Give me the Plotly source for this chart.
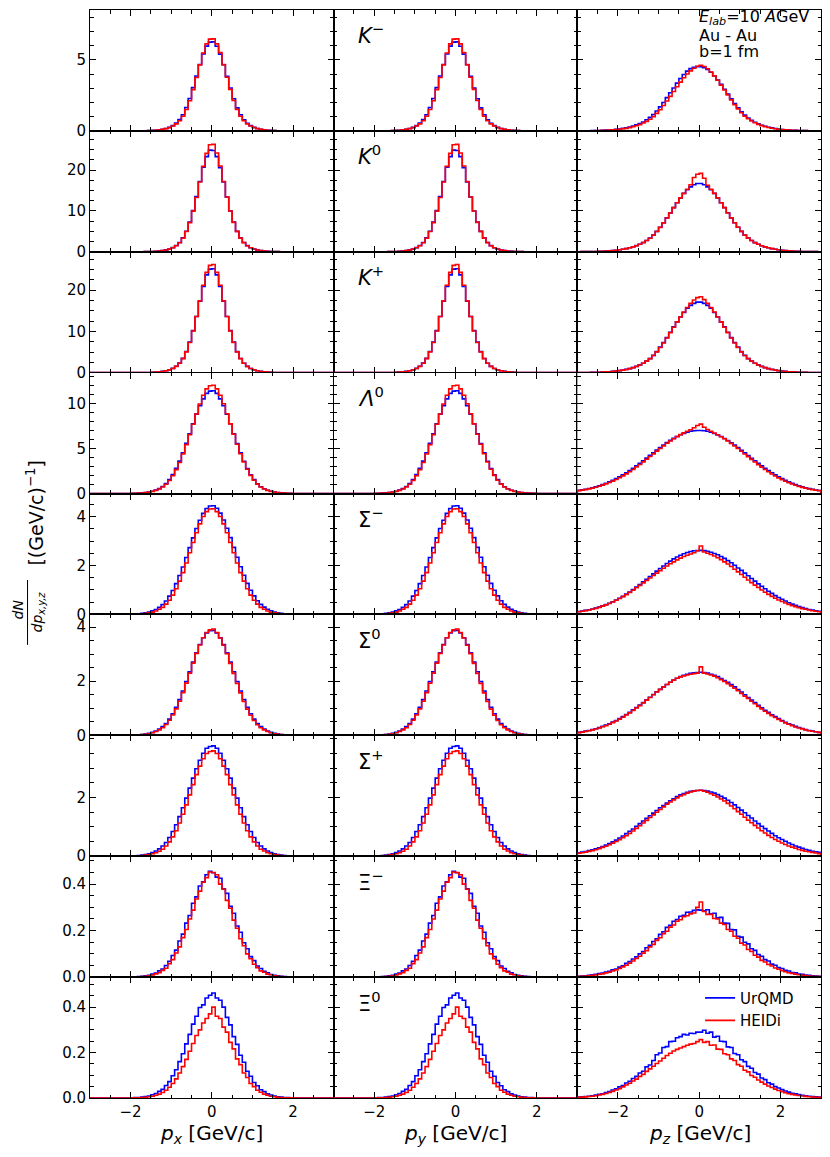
import plotly.graph_objects as go
from plotly.subplots import make_subplots

# ------------------------------
# 1. Histogram values
#    bin width 1/12 GeV/c
#    *_t_* : p_x / p_y, 48 bins from -2 to 2
#    *_z_* : p_z, 72 bins from -3 to 3
# ------------------------------
bin_width = 1 / 12

km_t_urqmd = [0.003, 0.004, 0.006, 0.009, 0.015, 0.022, 0.034, 0.05, 0.08, 0.12, 0.17, 0.25, 0.37, 0.55, 0.79, 1.14, 1.64, 2.28, 3.04, 3.86, 4.67, 5.41, 5.96, 6.24,
              6.26, 5.95, 5.40, 4.65, 3.84, 3.02, 2.26, 1.62, 1.13, 0.78, 0.54, 0.37, 0.25, 0.17, 0.12, 0.08, 0.05, 0.034, 0.022, 0.015, 0.009, 0.006, 0.004, 0.003]
km_t_heidi = [0.003, 0.004, 0.006, 0.009, 0.014, 0.021, 0.032, 0.048, 0.07, 0.11, 0.16, 0.23, 0.34, 0.49, 0.71, 1.03, 1.5, 2.12, 2.9, 3.75, 4.64, 5.48, 6.12, 6.45,
              6.47, 6.12, 5.50, 4.66, 3.77, 2.92, 2.14, 1.51, 1.03, 0.71, 0.49, 0.34, 0.23, 0.16, 0.11, 0.07, 0.048, 0.032, 0.021, 0.014, 0.009, 0.006, 0.004, 0.003]
km_z_urqmd = [0.006, 0.008, 0.011, 0.015, 0.019, 0.024, 0.031, 0.039, 0.052, 0.066, 0.084, 0.105, 0.135, 0.18, 0.22, 0.27, 0.34, 0.42, 0.52, 0.63, 0.78, 0.95, 1.15, 1.40, 1.69, 2.0, 2.34, 2.68, 3.02, 3.36, 3.68, 3.97, 4.2, 4.38, 4.47, 4.52,
              4.52, 4.45, 4.32, 4.12, 3.87, 3.58, 3.27, 2.93, 2.59, 2.26, 1.93, 1.63, 1.35, 1.11, 0.91, 0.75, 0.61, 0.50, 0.40, 0.33, 0.26, 0.21, 0.17, 0.13, 0.10, 0.08, 0.063, 0.05, 0.038, 0.03, 0.023, 0.018, 0.014, 0.01, 0.008, 0.006]
km_z_heidi = [0.006, 0.007, 0.009, 0.012, 0.015, 0.02, 0.026, 0.034, 0.044, 0.056, 0.072, 0.09, 0.115, 0.15, 0.18, 0.23, 0.29, 0.36, 0.44, 0.55, 0.67, 0.82, 1.0, 1.23, 1.49, 1.78, 2.1, 2.43, 2.77, 3.1, 3.43, 3.74, 4.0, 4.22, 4.4, 4.55,
              4.62, 4.53, 4.37, 4.14, 3.87, 3.56, 3.22, 2.87, 2.52, 2.18, 1.85, 1.55, 1.28, 1.04, 0.85, 0.70, 0.57, 0.46, 0.37, 0.30, 0.24, 0.19, 0.155, 0.12, 0.095, 0.075, 0.058, 0.046, 0.035, 0.027, 0.021, 0.016, 0.013, 0.01, 0.007, 0.006]

k0_t_urqmd = [0.005, 0.01, 0.015, 0.023, 0.036, 0.055, 0.085, 0.13, 0.2, 0.3, 0.46, 0.69, 1.02, 1.52, 2.28, 3.42, 5.02, 7.3, 10.1, 13.5, 17.2, 20.7, 23.3, 24.9,
              24.8, 23.3, 20.6, 17.1, 13.4, 10.0, 7.3, 5.0, 3.4, 2.26, 1.5, 1.0, 0.68, 0.45, 0.3, 0.2, 0.125, 0.085, 0.055, 0.035, 0.023, 0.015, 0.01, 0.005]
k0_t_heidi = [0.005, 0.01, 0.015, 0.023, 0.035, 0.054, 0.083, 0.125, 0.2, 0.3, 0.44, 0.66, 0.98, 1.48, 2.22, 3.33, 4.95, 7.15, 9.95, 13.3, 17.1, 20.9, 24.1, 26.2,
              26.3, 24.2, 21.0, 17.2, 13.4, 10.0, 7.2, 5.0, 3.35, 2.24, 1.49, 0.99, 0.67, 0.45, 0.3, 0.2, 0.125, 0.084, 0.055, 0.035, 0.023, 0.015, 0.01, 0.005]
k0_z_urqmd = [0.023, 0.029, 0.039, 0.051, 0.066, 0.086, 0.11, 0.145, 0.185, 0.235, 0.3, 0.39, 0.49, 0.63, 0.78, 0.98, 1.22, 1.5, 1.86, 2.27, 2.78, 3.36, 4.1, 5.0, 6.0, 7.1, 8.3, 9.5, 10.8, 12.0, 13.2, 14.3, 15.2, 15.9, 16.4, 16.7,
              16.7, 16.4, 15.9, 15.2, 14.3, 13.2, 12.0, 10.8, 9.55, 8.3, 7.1, 6.0, 5.0, 4.07, 3.34, 2.76, 2.25, 1.84, 1.49, 1.2, 0.97, 0.77, 0.62, 0.48, 0.38, 0.3, 0.23, 0.18, 0.14, 0.11, 0.084, 0.065, 0.05, 0.038, 0.028, 0.022]
k0_z_heidi = [0.022, 0.028, 0.038, 0.05, 0.065, 0.085, 0.11, 0.14, 0.18, 0.23, 0.3, 0.38, 0.48, 0.62, 0.77, 0.97, 1.2, 1.48, 1.83, 2.24, 2.75, 3.33, 4.05, 4.98, 5.98, 7.08, 8.28, 9.5, 10.8, 12.0, 13.2, 14.3, 15.3, 16.4, 18.2, 19.0,
              19.2, 18.0, 16.3, 15.3, 14.3, 13.2, 12.0, 10.8, 9.5, 8.3, 7.1, 6.0, 5.0, 4.07, 3.34, 2.76, 2.25, 1.84, 1.49, 1.2, 0.97, 0.77, 0.62, 0.48, 0.38, 0.3, 0.23, 0.18, 0.14, 0.11, 0.084, 0.065, 0.05, 0.038, 0.028, 0.022]

kp_t_urqmd = [0.005, 0.01, 0.015, 0.023, 0.036, 0.056, 0.088, 0.13, 0.2, 0.31, 0.47, 0.7, 1.03, 1.54, 2.32, 3.47, 5.12, 7.42, 10.2, 13.6, 17.3, 20.9, 23.7, 25.1,
              25.2, 23.7, 20.9, 17.3, 13.6, 10.2, 7.4, 5.1, 3.45, 2.3, 1.53, 1.02, 0.69, 0.46, 0.31, 0.2, 0.13, 0.087, 0.056, 0.036, 0.023, 0.015, 0.01, 0.005]
kp_t_heidi = [0.005, 0.01, 0.015, 0.023, 0.036, 0.055, 0.086, 0.13, 0.2, 0.3, 0.45, 0.68, 1.01, 1.52, 2.28, 3.4, 5.05, 7.3, 10.1, 13.6, 17.4, 21.2, 24.3, 26.0,
              26.2, 24.3, 21.2, 17.4, 13.6, 10.1, 7.3, 5.05, 3.4, 2.28, 1.52, 1.01, 0.68, 0.45, 0.3, 0.2, 0.13, 0.086, 0.055, 0.036, 0.023, 0.015, 0.01, 0.005]
kp_z_urqmd = [0.022, 0.029, 0.039, 0.051, 0.067, 0.086, 0.11, 0.145, 0.19, 0.24, 0.31, 0.39, 0.5, 0.63, 0.79, 0.99, 1.23, 1.52, 1.88, 2.3, 2.8, 3.4, 4.2, 5.1, 6.2, 7.3, 8.5, 9.8, 11.1, 12.3, 13.5, 14.6, 15.6, 16.3, 16.8, 17.1,
              17.1, 16.8, 16.3, 15.6, 14.6, 13.5, 12.3, 11.1, 9.8, 8.5, 7.3, 6.2, 5.1, 4.2, 3.4, 2.8, 2.3, 1.88, 1.52, 1.23, 0.99, 0.79, 0.63, 0.5, 0.39, 0.31, 0.24, 0.19, 0.145, 0.11, 0.086, 0.067, 0.051, 0.039, 0.029, 0.022]
kp_z_heidi = [0.021, 0.028, 0.038, 0.05, 0.066, 0.085, 0.11, 0.14, 0.185, 0.235, 0.3, 0.39, 0.49, 0.62, 0.78, 0.98, 1.22, 1.5, 1.86, 2.3, 2.8, 3.4, 4.15, 5.05, 6.1, 7.2, 8.4, 9.7, 11.0, 12.3, 13.5, 14.7, 15.8, 16.8, 17.6, 18.2,
              18.4, 17.7, 16.8, 15.8, 14.7, 13.5, 12.3, 11.0, 9.7, 8.4, 7.2, 6.1, 5.05, 4.15, 3.4, 2.8, 2.3, 1.86, 1.5, 1.22, 0.98, 0.78, 0.62, 0.49, 0.39, 0.3, 0.235, 0.185, 0.14, 0.11, 0.085, 0.066, 0.05, 0.038, 0.028, 0.021]

la_t_urqmd = [0.018, 0.03, 0.047, 0.074, 0.11, 0.17, 0.26, 0.38, 0.55, 0.78, 1.11, 1.56, 2.11, 2.79, 3.6, 4.53, 5.56, 6.63, 7.74, 8.8, 9.75, 10.5, 11.1, 11.35,
              11.4, 11.1, 10.5, 9.74, 8.79, 7.73, 6.62, 5.54, 4.51, 3.58, 2.77, 2.09, 1.54, 1.09, 0.76, 0.53, 0.37, 0.25, 0.165, 0.11, 0.072, 0.046, 0.029, 0.017]
la_t_heidi = [0.016, 0.027, 0.044, 0.07, 0.105, 0.16, 0.24, 0.35, 0.51, 0.72, 1.03, 1.45, 1.98, 2.65, 3.45, 4.38, 5.42, 6.53, 7.68, 8.82, 9.92, 10.9, 11.6, 11.95,
              12.0, 11.6, 10.9, 9.95, 8.85, 7.72, 6.57, 5.46, 4.42, 3.49, 2.69, 2.02, 1.48, 1.05, 0.73, 0.51, 0.35, 0.24, 0.16, 0.105, 0.07, 0.044, 0.027, 0.016]
la_z_urqmd = [0.35, 0.41, 0.48, 0.56, 0.65, 0.75, 0.87, 1.0, 1.14, 1.3, 1.47, 1.66, 1.86, 2.08, 2.31, 2.55, 2.81, 3.08, 3.36, 3.64, 3.93, 4.23, 4.52, 4.81, 5.1, 5.38, 5.65, 5.89, 6.12, 6.33, 6.52, 6.67, 6.81, 6.9, 6.96, 6.99,
              6.99, 6.97, 6.9, 6.8, 6.66, 6.51, 6.32, 6.11, 5.88, 5.64, 5.37, 5.09, 4.8, 4.51, 4.22, 3.92, 3.63, 3.35, 3.07, 2.8, 2.54, 2.3, 2.07, 1.85, 1.65, 1.46, 1.29, 1.13, 0.99, 0.86, 0.74, 0.64, 0.55, 0.47, 0.4, 0.34]
la_z_heidi = [0.32, 0.38, 0.44, 0.52, 0.6, 0.7, 0.81, 0.93, 1.07, 1.22, 1.38, 1.56, 1.75, 1.96, 2.18, 2.42, 2.67, 2.94, 3.22, 3.51, 3.8, 4.1, 4.4, 4.7, 5.0, 5.29, 5.57, 5.83, 6.08, 6.31, 6.53, 6.73, 6.9, 7.08, 7.3, 7.55,
              7.7, 7.35, 7.1, 6.9, 6.72, 6.52, 6.3, 6.07, 5.82, 5.56, 5.28, 4.99, 4.69, 4.39, 4.09, 3.79, 3.5, 3.21, 2.93, 2.66, 2.41, 2.17, 1.95, 1.74, 1.55, 1.37, 1.21, 1.06, 0.92, 0.8, 0.69, 0.6, 0.51, 0.44, 0.37, 0.32]

sm_t_urqmd = [0.011, 0.019, 0.029, 0.045, 0.068, 0.1, 0.145, 0.2, 0.29, 0.4, 0.55, 0.75, 0.98, 1.26, 1.59, 1.94, 2.33, 2.73, 3.13, 3.51, 3.85, 4.13, 4.33, 4.43,
              4.44, 4.34, 4.14, 3.86, 3.52, 3.14, 2.74, 2.34, 1.95, 1.6, 1.27, 0.99, 0.76, 0.56, 0.41, 0.30, 0.21, 0.15, 0.1, 0.07, 0.047, 0.03, 0.02, 0.012]
sm_t_heidi = [0.006, 0.011, 0.017, 0.027, 0.042, 0.063, 0.095, 0.14, 0.21, 0.29, 0.42, 0.58, 0.79, 1.05, 1.36, 1.71, 2.1, 2.52, 2.94, 3.34, 3.7, 4.0, 4.2, 4.31,
              4.32, 4.2, 4.0, 3.7, 3.34, 2.94, 2.52, 2.1, 1.71, 1.36, 1.05, 0.79, 0.58, 0.42, 0.29, 0.21, 0.14, 0.095, 0.063, 0.042, 0.027, 0.017, 0.011, 0.006]
sm_z_urqmd = [0.12, 0.14, 0.165, 0.19, 0.22, 0.26, 0.3, 0.35, 0.4, 0.46, 0.52, 0.59, 0.66, 0.74, 0.83, 0.92, 1.02, 1.12, 1.22, 1.33, 1.44, 1.55, 1.66, 1.77, 1.88, 1.98, 2.08, 2.18, 2.27, 2.35, 2.42, 2.48, 2.53, 2.57, 2.6, 2.61,
              2.62, 2.61, 2.58, 2.54, 2.49, 2.44, 2.37, 2.29, 2.2, 2.11, 2.01, 1.9, 1.8, 1.69, 1.58, 1.47, 1.36, 1.25, 1.15, 1.05, 0.95, 0.86, 0.77, 0.69, 0.62, 0.55, 0.48, 0.42, 0.37, 0.32, 0.28, 0.24, 0.2, 0.18, 0.15, 0.13]
sm_z_heidi = [0.11, 0.13, 0.155, 0.18, 0.21, 0.25, 0.29, 0.34, 0.39, 0.45, 0.51, 0.58, 0.65, 0.73, 0.81, 0.9, 0.99, 1.09, 1.19, 1.29, 1.39, 1.49, 1.59, 1.69, 1.79, 1.89, 1.98, 2.07, 2.15, 2.23, 2.3, 2.37, 2.42, 2.47, 2.52, 2.6,
              2.8, 2.55, 2.5, 2.45, 2.39, 2.32, 2.24, 2.15, 2.06, 1.96, 1.85, 1.74, 1.63, 1.52, 1.41, 1.3, 1.2, 1.1, 1.0, 0.91, 0.82, 0.74, 0.66, 0.59, 0.53, 0.47, 0.41, 0.36, 0.32, 0.28, 0.24, 0.21, 0.18, 0.15, 0.13, 0.11]

s0_t_urqmd = [0.008, 0.013, 0.021, 0.033, 0.05, 0.075, 0.11, 0.16, 0.23, 0.32, 0.44, 0.6, 0.8, 1.04, 1.32, 1.64, 1.99, 2.35, 2.71, 3.05, 3.36, 3.61, 3.79, 3.87,
              3.88, 3.79, 3.61, 3.36, 3.05, 2.71, 2.35, 1.99, 1.64, 1.32, 1.04, 0.8, 0.6, 0.44, 0.32, 0.23, 0.16, 0.11, 0.075, 0.05, 0.033, 0.021, 0.013, 0.008]
s0_t_heidi = [0.006, 0.01, 0.016, 0.026, 0.04, 0.06, 0.093, 0.14, 0.2, 0.28, 0.4, 0.56, 0.75, 0.98, 1.26, 1.58, 1.93, 2.3, 2.67, 3.03, 3.34, 3.61, 3.8, 3.9,
              3.93, 3.8, 3.6, 3.33, 3.02, 2.66, 2.29, 1.92, 1.57, 1.25, 0.97, 0.74, 0.55, 0.39, 0.28, 0.2, 0.14, 0.093, 0.06, 0.04, 0.026, 0.016, 0.01, 0.006]
s0_z_urqmd = [0.11, 0.13, 0.155, 0.18, 0.21, 0.245, 0.285, 0.33, 0.38, 0.43, 0.49, 0.55, 0.62, 0.69, 0.77, 0.85, 0.94, 1.03, 1.12, 1.21, 1.31, 1.41, 1.51, 1.61, 1.7, 1.79, 1.88, 1.96, 2.04, 2.11, 2.17, 2.22, 2.26, 2.29, 2.31, 2.32,
              2.33, 2.32, 2.3, 2.26, 2.22, 2.17, 2.1, 2.03, 1.96, 1.88, 1.79, 1.69, 1.6, 1.5, 1.4, 1.3, 1.21, 1.11, 1.02, 0.93, 0.85, 0.76, 0.69, 0.62, 0.55, 0.48, 0.43, 0.38, 0.33, 0.29, 0.25, 0.21, 0.18, 0.16, 0.13, 0.11]
s0_z_heidi = [0.1, 0.12, 0.145, 0.17, 0.2, 0.235, 0.27, 0.315, 0.36, 0.41, 0.47, 0.53, 0.6, 0.67, 0.75, 0.83, 0.92, 1.01, 1.1, 1.2, 1.3, 1.4, 1.5, 1.6, 1.7, 1.79, 1.88, 1.96, 2.04, 2.11, 2.16, 2.2, 2.23, 2.26, 2.28, 2.3,
              2.53, 2.3, 2.27, 2.23, 2.19, 2.13, 2.06, 1.99, 1.91, 1.83, 1.74, 1.65, 1.55, 1.45, 1.36, 1.26, 1.17, 1.07, 0.98, 0.89, 0.81, 0.73, 0.66, 0.59, 0.52, 0.46, 0.41, 0.36, 0.31, 0.27, 0.24, 0.2, 0.17, 0.15, 0.13, 0.11]

sp_t_urqmd = [0.01, 0.016, 0.025, 0.039, 0.058, 0.085, 0.125, 0.18, 0.25, 0.35, 0.47, 0.64, 0.84, 1.07, 1.35, 1.65, 1.98, 2.32, 2.66, 2.98, 3.27, 3.51, 3.68, 3.74,
              3.76, 3.68, 3.51, 3.27, 2.98, 2.66, 2.32, 1.98, 1.65, 1.35, 1.07, 0.84, 0.64, 0.47, 0.35, 0.25, 0.18, 0.125, 0.085, 0.058, 0.039, 0.025, 0.016, 0.01]
sp_t_heidi = [0.005, 0.009, 0.014, 0.023, 0.036, 0.054, 0.083, 0.12, 0.17, 0.24, 0.35, 0.49, 0.66, 0.87, 1.13, 1.43, 1.75, 2.09, 2.44, 2.78, 3.07, 3.32, 3.5, 3.57,
              3.59, 3.5, 3.32, 3.07, 2.78, 2.44, 2.09, 1.75, 1.43, 1.13, 0.87, 0.66, 0.49, 0.35, 0.24, 0.18, 0.12, 0.083, 0.054, 0.036, 0.023, 0.014, 0.009, 0.005]
sp_z_urqmd = [0.12, 0.14, 0.16, 0.19, 0.22, 0.25, 0.29, 0.33, 0.38, 0.43, 0.49, 0.55, 0.62, 0.69, 0.77, 0.85, 0.93, 1.02, 1.11, 1.2, 1.29, 1.38, 1.47, 1.56, 1.65, 1.73, 1.81, 1.89, 1.96, 2.03, 2.09, 2.14, 2.18, 2.21, 2.23, 2.24,
              2.25, 2.24, 2.22, 2.19, 2.15, 2.1, 2.04, 1.98, 1.91, 1.83, 1.75, 1.66, 1.57, 1.48, 1.39, 1.3, 1.2, 1.11, 1.02, 0.94, 0.86, 0.78, 0.7, 0.63, 0.57, 0.51, 0.45, 0.4, 0.35, 0.31, 0.27, 0.23, 0.2, 0.17, 0.15, 0.13]
sp_z_heidi = [0.1, 0.12, 0.14, 0.165, 0.19, 0.22, 0.26, 0.3, 0.34, 0.39, 0.44, 0.5, 0.56, 0.63, 0.7, 0.78, 0.86, 0.95, 1.04, 1.13, 1.22, 1.32, 1.41, 1.5, 1.59, 1.68, 1.77, 1.85, 1.92, 1.99, 2.05, 2.1, 2.15, 2.19, 2.22, 2.24,
              2.25, 2.22, 2.18, 2.13, 2.08, 2.02, 1.95, 1.88, 1.8, 1.71, 1.62, 1.52, 1.43, 1.33, 1.23, 1.14, 1.05, 0.96, 0.87, 0.79, 0.71, 0.64, 0.57, 0.51, 0.45, 0.4, 0.35, 0.31, 0.27, 0.23, 0.2, 0.17, 0.15, 0.13, 0.11, 0.09]

xm_t_urqmd = [0.001, 0.0015, 0.002, 0.004, 0.006, 0.008, 0.013, 0.017, 0.027, 0.035, 0.05, 0.068, 0.093, 0.116, 0.155, 0.185, 0.232, 0.265, 0.318, 0.345, 0.392, 0.41, 0.44, 0.455,
              0.449, 0.43, 0.425, 0.38, 0.36, 0.305, 0.275, 0.22, 0.193, 0.148, 0.122, 0.088, 0.071, 0.048, 0.037, 0.025, 0.019, 0.011, 0.008, 0.006, 0.003, 0.002, 0.0015, 0.001]
xm_t_heidi = [0.0005, 0.001, 0.0015, 0.0025, 0.004, 0.006, 0.009, 0.014, 0.019, 0.029, 0.038, 0.058, 0.075, 0.104, 0.13, 0.17, 0.205, 0.25, 0.288, 0.336, 0.37, 0.408, 0.428, 0.452,
              0.45, 0.44, 0.4, 0.378, 0.33, 0.296, 0.245, 0.21, 0.165, 0.135, 0.1, 0.079, 0.055, 0.041, 0.027, 0.021, 0.013, 0.01, 0.006, 0.004, 0.0025, 0.0015, 0.001, 0.0005]
xm_z_urqmd = [0.004, 0.005, 0.006, 0.008, 0.01, 0.012, 0.015, 0.017, 0.022, 0.025, 0.031, 0.035, 0.043, 0.049, 0.059, 0.067, 0.078, 0.087, 0.1, 0.11, 0.126, 0.137, 0.153, 0.165, 0.184, 0.195, 0.214, 0.223, 0.24, 0.248, 0.262, 0.266, 0.279, 0.28, 0.287, 0.289,
              0.288, 0.285, 0.29, 0.272, 0.275, 0.255, 0.257, 0.232, 0.231, 0.205, 0.203, 0.176, 0.172, 0.15, 0.143, 0.122, 0.115, 0.097, 0.09, 0.075, 0.069, 0.056, 0.051, 0.041, 0.037, 0.029, 0.026, 0.02, 0.018, 0.013, 0.012, 0.009, 0.0075, 0.006, 0.0046, 0.0038]
xm_z_heidi = [0.003, 0.0035, 0.0045, 0.006, 0.0075, 0.009, 0.012, 0.014, 0.018, 0.021, 0.026, 0.031, 0.037, 0.044, 0.051, 0.06, 0.069, 0.08, 0.09, 0.103, 0.114, 0.13, 0.141, 0.158, 0.169, 0.187, 0.197, 0.215, 0.224, 0.24, 0.247, 0.26, 0.264, 0.272, 0.276, 0.3,
              0.323, 0.282, 0.27, 0.27, 0.252, 0.25, 0.232, 0.226, 0.205, 0.197, 0.176, 0.167, 0.146, 0.138, 0.119, 0.11, 0.094, 0.086, 0.072, 0.065, 0.054, 0.048, 0.039, 0.034, 0.028, 0.023, 0.019, 0.016, 0.013, 0.01, 0.008, 0.0065, 0.005, 0.004, 0.003, 0.0025]

x0_t_urqmd = [0.001, 0.0016, 0.0025, 0.004, 0.006, 0.009, 0.014, 0.02, 0.029, 0.038, 0.055, 0.072, 0.098, 0.124, 0.16, 0.195, 0.238, 0.28, 0.325, 0.36, 0.398, 0.41, 0.44, 0.452,
              0.462, 0.44, 0.43, 0.4, 0.355, 0.322, 0.27, 0.236, 0.188, 0.157, 0.118, 0.096, 0.068, 0.054, 0.036, 0.028, 0.018, 0.013, 0.009, 0.0057, 0.0037, 0.0024, 0.0015, 0.0009]
x0_t_heidi = [0.0005, 0.0009, 0.0014, 0.0023, 0.0035, 0.0053, 0.008, 0.012, 0.017, 0.024, 0.034, 0.047, 0.064, 0.084, 0.11, 0.138, 0.17, 0.206, 0.24, 0.275, 0.3, 0.33, 0.35, 0.37,
              0.40, 0.36, 0.35, 0.312, 0.29, 0.245, 0.216, 0.172, 0.147, 0.11, 0.09, 0.064, 0.05, 0.034, 0.025, 0.017, 0.012, 0.008, 0.0053, 0.0035, 0.0023, 0.0014, 0.0009, 0.0005]
x0_z_urqmd = [0.004, 0.005, 0.0065, 0.008, 0.01, 0.013, 0.016, 0.019, 0.024, 0.028, 0.035, 0.04, 0.049, 0.055, 0.066, 0.074, 0.086, 0.095, 0.11, 0.118, 0.137, 0.145, 0.165, 0.19, 0.198, 0.222, 0.226, 0.248, 0.25, 0.265, 0.27, 0.28, 0.277, 0.285, 0.284, 0.29,
              0.29, 0.298, 0.285, 0.29, 0.268, 0.272, 0.25, 0.248, 0.225, 0.222, 0.196, 0.19, 0.168, 0.16, 0.139, 0.131, 0.112, 0.105, 0.088, 0.081, 0.067, 0.061, 0.05, 0.044, 0.037, 0.031, 0.026, 0.021, 0.018, 0.015, 0.012, 0.0095, 0.0077, 0.006, 0.0048, 0.0039]
x0_z_heidi = [0.003, 0.004, 0.005, 0.0065, 0.008, 0.01, 0.013, 0.016, 0.02, 0.024, 0.029, 0.035, 0.041, 0.049, 0.057, 0.065, 0.075, 0.083, 0.095, 0.104, 0.117, 0.128, 0.14, 0.152, 0.163, 0.175, 0.187, 0.197, 0.207, 0.214, 0.22, 0.226, 0.232, 0.237, 0.24, 0.248,
              0.257, 0.245, 0.248, 0.232, 0.233, 0.215, 0.214, 0.195, 0.19, 0.172, 0.165, 0.147, 0.14, 0.122, 0.115, 0.099, 0.091, 0.079, 0.07, 0.061, 0.053, 0.046, 0.039, 0.033, 0.028, 0.023, 0.019, 0.016, 0.013, 0.011, 0.009, 0.007, 0.0055, 0.0045, 0.0035, 0.0028]

# one row per particle
particle_labels = ["<i>K</i><sup>−</sup>", "<i>K</i><sup>0</sup>", "<i>K</i><sup>+</sup>", "<i>Λ</i><sup>0</sup>",
                   "Σ<sup>−</sup>", "Σ<sup>0</sup>", "Σ<sup>+</sup>", "Ξ<sup>−</sup>", "Ξ<sup>0</sup>"]
transverse_urqmd = [km_t_urqmd, k0_t_urqmd, kp_t_urqmd, la_t_urqmd, sm_t_urqmd, s0_t_urqmd, sp_t_urqmd, xm_t_urqmd, x0_t_urqmd]
transverse_heidi = [km_t_heidi, k0_t_heidi, kp_t_heidi, la_t_heidi, sm_t_heidi, s0_t_heidi, sp_t_heidi, xm_t_heidi, x0_t_heidi]
longitudinal_urqmd = [km_z_urqmd, k0_z_urqmd, kp_z_urqmd, la_z_urqmd, sm_z_urqmd, s0_z_urqmd, sp_z_urqmd, xm_z_urqmd, x0_z_urqmd]
longitudinal_heidi = [km_z_heidi, k0_z_heidi, kp_z_heidi, la_z_heidi, sm_z_heidi, s0_z_heidi, sp_z_heidi, xm_z_heidi, x0_z_heidi]

y_max = [8.5, 29.6, 29.3, 13.4, 4.94, 4.47, 4.12, 0.52, 0.532]
y_labelled = [[0, 5], [0, 10, 20], [0, 10, 20], [0, 5, 10], [0, 2, 4], [0, 2, 4], [0, 2],
              [0.0, 0.2, 0.4], [0.0, 0.2, 0.4]]
y_minor = [1, 2.5, 2.5, 1, 0.5, 0.5, 0.5, 0.05, 0.05]

x_titles = ["<i>p</i><sub><i>x</i></sub> [GeV/c]", "<i>p</i><sub><i>y</i></sub> [GeV/c]", "<i>p</i><sub><i>z</i></sub> [GeV/c]"]
models = ["UrQMD", "HEIDi"]
colors = ["#0000ff", "#ff0000"]

FONT = "DejaVu Sans"
OFF = 8                     # page margin of the browser body
W, H = 830 - OFF, 1157 - OFF
ML, MR, MT, MB = 81.5, 9, 1.5, 58.5


def step_xy(vals):
    # histtype='step' outline, flat at zero out to the axis limits
    n = len(vals)
    start = -n * bin_width / 2
    xs = [-3.0] + [start + i * bin_width for i in range(n)] + [start + n * bin_width, 3.0]
    ys = [0.0] + list(vals) + [0.0, 0.0]
    return xs, ys


def px_to_paper(x_px, y_px):
    # screen pixel -> paper coordinates
    x_px -= OFF
    y_px -= OFF
    return (x_px - ML) / (W - ML - MR), (H - MB - y_px) / (H - MT - MB)


# ------------------------------
# 2. Figure
# ------------------------------
fig = make_subplots(rows=9, cols=3, shared_xaxes=True, shared_yaxes=True,
                    horizontal_spacing=0, vertical_spacing=0)

for r in range(9):
    for c in range(3):
        if c < 2:
            series = [transverse_urqmd[r], transverse_heidi[r]]
        else:
            series = [longitudinal_urqmd[r], longitudinal_heidi[r]]
        for m in range(2):
            xs, ys = step_xy(series[m])
            fig.add_trace(go.Scatter(
                x=xs, y=ys, mode="lines", line_shape="hv",
                line=dict(color=colors[m], width=1.6),
                name=models[m], showlegend=(r == 0 and c == 0),
                legendgroup=models[m]
            ), row=r + 1, col=c + 1)

tick_style = dict(ticks="inside", ticklen=6, tickwidth=1, tickcolor="black",
                  showline=True, linecolor="black", linewidth=1, mirror="ticks",
                  showgrid=False, zeroline=False, automargin=False,
                  tickfont=dict(family=FONT, size=15, color="black"))

fig.update_xaxes(range=[-3, 3], tickmode="array", tickvals=[-2, 0, 2],
                 minor=dict(ticks="inside", tick0=0, dtick=0.5, ticklen=3.5, tickwidth=1, tickcolor="black"),
                 **tick_style)

for r in range(9):
    fig.update_yaxes(range=[0, y_max[r]], tickmode="array", tickvals=y_labelled[r],
                     tickformat=".1f" if y_minor[r] < 0.1 else None,
                     minor=dict(ticks="inside", tick0=0, dtick=y_minor[r], ticklen=3.5, tickwidth=1, tickcolor="black"),
                     row=r + 1, **tick_style)

# particle names in the middle column
for r in range(9):
    idx = r * 3 + 2
    fig.add_annotation(text=particle_labels[r], xref=f"x{idx} domain", yref=f"y{idx} domain",
                       x=0.09, y=0.93, xanchor="left", yanchor="top", showarrow=False,
                       font=dict(family=FONT, size=21, color="black"))

# x axis titles
for c in range(3):
    xp, yp = px_to_paper(89.5 + 244 * c + 122, 1135)
    fig.add_annotation(text=x_titles[c], xref="paper", yref="paper", x=xp, y=yp,
                       xanchor="center", yanchor="middle", showarrow=False,
                       font=dict(family=FONT, size=20, color="black"))

# y axis title: dN/dp_{x,y,z} [(GeV/c)^-1], fraction stacked sideways
ylab = [("[(GeV/c)<sup>−1</sup>]", 35, 513, 19),
        ("<i>dN</i>", 17, 610, 14),
        ("<i>dp</i><sub><i>x,y,z</i></sub>", 37, 612, 14)]
for text, xpx, ypx, size in ylab:
    xp, yp = px_to_paper(xpx, ypx)
    fig.add_annotation(text=text, xref="paper", yref="paper", x=xp, y=yp,
                       xanchor="center", yanchor="middle", textangle=-90, showarrow=False,
                       font=dict(family=FONT, size=size, color="black"))
x0p, y0p = px_to_paper(27, 580)
x1p, y1p = px_to_paper(27, 645)
fig.add_shape(type="line", xref="paper", yref="paper", x0=x0p, y0=y0p, x1=x1p, y1=y1p,
              line=dict(color="black", width=1))

# collision info, top right
info_lines = ["<i>E</i><sub><i>lab</i></sub>=10 <i>A</i>GeV", "Au - Au", "b=1 fm"]
info_y = [17, 35, 51]
for text, ypx in zip(info_lines, info_y):
    xp, yp = px_to_paper(697, ypx)
    fig.add_annotation(text=text, xref="paper", yref="paper", x=xp, y=yp,
                       xanchor="left", yanchor="middle", showarrow=False,
                       font=dict(family=FONT, size=16, color="black"))

lx, ly = px_to_paper(700, 982)
fig.update_layout(
    width=W, height=H,
    margin=dict(l=ML, r=MR, t=MT, b=MB, autoexpand=False),
    plot_bgcolor="white", paper_bgcolor="white",
    font=dict(family=FONT, color="black"),
    legend=dict(x=lx, y=ly, xanchor="left", yanchor="top", bgcolor="rgba(0,0,0,0)",
                font=dict(family=FONT, size=15, color="black"), tracegroupgap=0),
)

fig.write_html("out.html")
